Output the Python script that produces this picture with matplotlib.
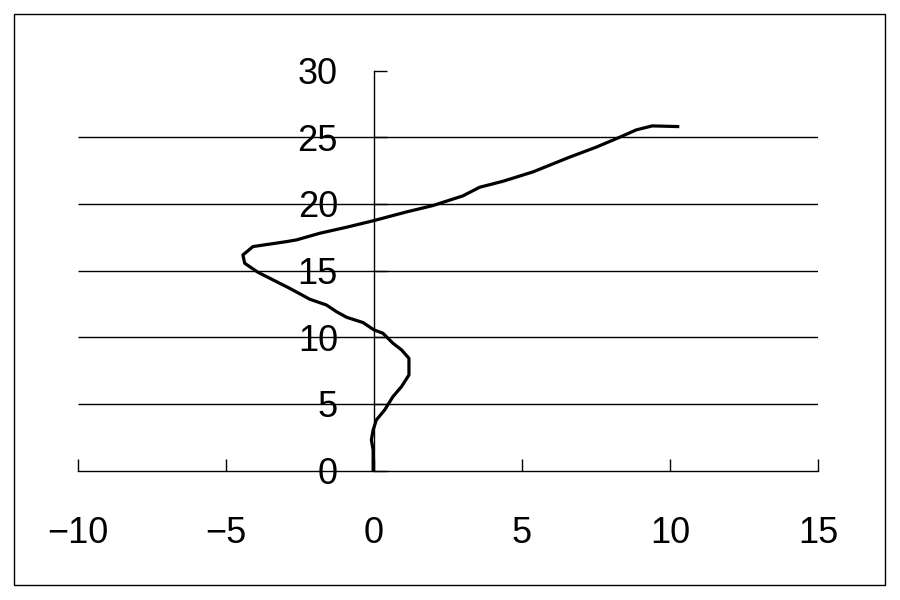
#!/usr/bin/env python3
# profilo verticale: x (valore) contro y (quota), stile Excel

import matplotlib
matplotlib.use('Agg')
import matplotlib.pyplot as plt
from matplotlib.patches import Rectangle

plt.rcParams['font.family'] = ['Liberation Sans', 'DejaVu Sans']

# data
x_vals = [-0.03, -0.03, -0.09, -0.03, 0.08, 0.36, 0.64, 0.93, 1.18, 1.18, 0.93, 0.64,
          0.30, 0.0, -0.37, -0.93, -1.27, -1.61, -2.17, -2.85, -3.19, -3.92, -4.37,
          -4.43, -4.09, -2.96, -2.62, -1.83, -0.93, 0.0, 0.42, 1.1, 1.98, 3.0, 3.57,
          4.36, 5.37, 6.6, 7.5, 8.3, 8.86, 9.4, 10.26]
y_vals = [0.0, 1.55, 2.3, 3.05, 3.8, 4.55, 5.55, 6.3, 7.17, 8.42, 9.05, 9.55,
          10.3, 10.55, 11.1, 11.5, 11.92, 12.42, 12.85, 13.67, 14.05, 14.87, 15.55,
          16.17, 16.8, 17.17, 17.3, 17.8, 18.25, 18.75, 19.0, 19.4, 19.87, 20.6, 21.25,
          21.7, 22.4, 23.5, 24.25, 25.0, 25.55, 25.85, 25.8]

x_ticks = [-10, -5, 0, 5, 10, 15]
y_ticks = [0, 5, 10, 15, 20, 25, 30]
grid_levels = [5, 10, 15, 20, 25]

fig = plt.figure(figsize=(9, 6), dpi=100)
ax = fig.add_axes([0.0867, 0.2157, 0.8222, 0.6667])

# cornice esterna
fig.patches.append(Rectangle((0.0156, 0.025), 0.968, 0.952, transform=fig.transFigure,
                             fill=False, edgecolor='black', linewidth=1.0))

ax.hlines(grid_levels, x_ticks[0], x_ticks[-1], colors='black', linewidth=1.0, zorder=1)
ax.plot(x_vals, y_vals, color='black', linewidth=2.3, zorder=3)

ax.set_xlim(x_ticks[0], x_ticks[-1])
ax.set_ylim(y_ticks[0], y_ticks[-1])
ax.set_xticks(x_ticks)
ax.set_yticks(y_ticks)

ax.spines['left'].set_position(('data', 0))
ax.spines['bottom'].set_position(('data', 0))
ax.spines['top'].set_visible(False)
ax.spines['right'].set_visible(False)
for s in ['left', 'bottom']:
    ax.spines[s].set_linewidth(1.0)

ax.tick_params(axis='x', direction='in', length=9, width=1.0, pad=33, labelsize=26)
ax.tick_params(axis='y', direction='in', length=9, width=1.0, pad=26, labelsize=26)
ax.set_facecolor('none')

plt.savefig('out.png', dpi=100)
